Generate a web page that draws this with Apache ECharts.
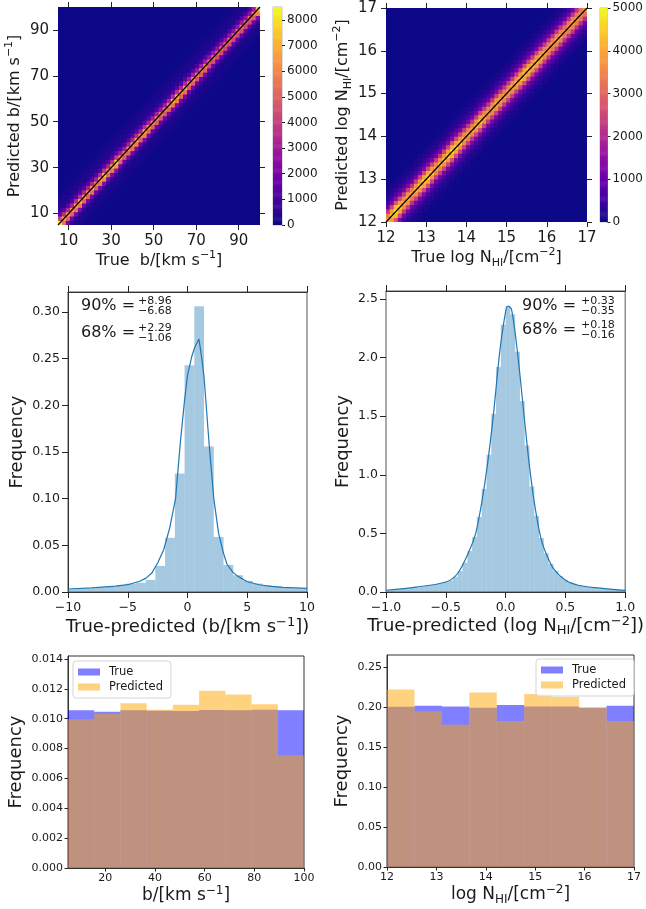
<!DOCTYPE html>
<html><head><meta charset="utf-8">
<script src="https://cdn.jsdelivr.net/npm/echarts@6/dist/echarts.min.js"></script>
<style>html,body{margin:0;padding:0;background:#fff}#c{width:646px;height:909px}</style>
</head><body><div id="c"></div>
<script>
// ---------------- DATA ----------------
// Heatmap 1: true vs predicted b (50 bins, 5..100)
const h1Range = [5, 100];
const h1Bins = 50;
const h1Diag = [8300,7000,6500,6200,6800,7200,6400,6300,6600,6200,7000,7600,6500,7000,8000,6400,6000,6300,6600,7000,
                6200,7200,6500,6000,6200,5800,6000,6400,6900,7200,6300,6800,6000,6200,5800,6000,6200,5500,5600,5400,
                5500,5200,5500,5300,5400,5600,5200,5400,6000,7500];
const h1KernelOffsets = [-6,-5,-4,-3,-2,-1,0,1,2,3,4,5,6];
const h1KernelFrac    = [0.02,0.03,0.04,0.08,0.3,0.8,1,0.5,0.2,0.07,0.05,0.035,0.025];
const h1CbarMax = 8500;
const h1CbarTicks = [0,1000,2000,3000,4000,5000,6000,7000,8000];
const h1Ticks = [10,30,50,70,90];

// Heatmap 2: true vs predicted log N_HI (50 bins, 12..17)
const h2Range = [12, 17];
const h2Bins = 50;
const h2Diag = [4000,4500,5000,4600,4200,4300,3900,4300,4400,4600,4700,4400,4100,4200,4400,4500,4800,4600,4400,4200,
                4100,4000,4300,4500,4200,4000,4100,4300,4200,4000,4100,4200,4300,4400,4600,4500,4300,4400,4300,4100,
                4000,3900,4100,4000,3800,3900,4000,3900,3800,3700];
const h2KernelOffsets = [-7,-6,-5,-4,-3,-2,-1,0,1,2,3,4,5,6,7];
const h2KernelFrac    = [0.02,0.04,0.07,0.14,0.28,0.55,0.85,1,0.85,0.55,0.28,0.14,0.07,0.04,0.02];
const h2CbarMax = 5000;
const h2CbarTicks = [0,1000,2000,3000,4000,5000];
const h2Ticks = [12,13,14,15,16,17];

// Residual histogram b
const resBEdges = [-10,-9.21,-8.395,-7.58,-6.765,-5.95,-5.135,-4.32,-3.505,-2.69,-1.875,-1.06,-0.245,0.57,1.385,2.2,3.015,3.83,4.645,5.46,6.275,7.09,7.905,8.72,9.535,10];
const resBFreq  = [0.003,0.0035,0.004,0.005,0.006,0.007,0.009,0.010,0.013,0.028,0.058,0.127,0.243,0.306,0.156,0.059,0.029,0.018,0.012,0.009,0.007,0.006,0.005,0.004,0.0035];
const kdeBX = [-10,-8,-6,-5,-4,-3.5,-3,-2.5,-2,-1.5,-1,-0.6,-0.25,0,0.35,0.6,0.96,1.2,1.4,1.8,2.2,2.6,3,3.3,3.8,4.2,5,6,7,8,10];
const kdeBY = [0.0032,0.0045,0.0062,0.0078,0.0115,0.0146,0.020,0.031,0.045,0.068,0.100,0.160,0.205,0.232,0.252,0.262,0.271,0.25,0.228,0.16,0.10,0.063,0.042,0.030,0.021,0.017,0.011,0.0078,0.006,0.005,0.0039];
const resBTicksY = [0,0.05,0.10,0.15,0.20,0.25,0.30];
const resBNotes = [['90%','+8.96','−6.68'],['68%','+2.29','−1.06']];

// Residual histogram log N_HI
const resNEdges = [-1,-0.96,-0.92,-0.88,-0.84,-0.8,-0.76,-0.72,-0.68,-0.64,-0.6,-0.56,-0.52,-0.48,-0.44,-0.4,-0.36,-0.32,-0.28,-0.24,-0.2,-0.16,-0.12,-0.08,-0.04,0,
                   0.04,0.08,0.12,0.16,0.2,0.24,0.28,0.32,0.36,0.4,0.44,0.48,0.52,0.56,0.6,0.64,0.68,0.72,0.76,0.8,0.84,0.88,0.92,0.96,1];
const resNFreq = [0.016,0.019,0.022,0.026,0.030,0.035,0.040,0.045,0.051,0.058,0.066,0.075,0.085,0.10,0.13,0.18,0.25,0.35,0.47,0.64,0.88,1.17,1.52,1.92,2.28,
                  2.44,2.37,2.05,1.63,1.25,0.90,0.65,0.46,0.33,0.24,0.18,0.135,0.105,0.085,0.07,0.058,0.05,0.043,0.038,0.033,0.028,0.024,0.021,0.018,0.015];
const kdeNX = [-1,-0.75,-0.5,-0.4,-0.3,-0.25,-0.2,-0.15,-0.1,-0.05,0,0.02,0.05,0.1,0.15,0.2,0.25,0.3,0.35,0.4,0.5,0.6,0.75,1];
const kdeNY = [0.015,0.042,0.085,0.16,0.36,0.50,0.76,1.10,1.53,2.04,2.39,2.44,2.41,2.04,1.55,1.07,0.70,0.44,0.30,0.20,0.10,0.06,0.037,0.014];
const resNTicksY = [0,0.5,1.0,1.5,2.0,2.5];
const resNNotes = [['90%','+0.33','−0.35'],['68%','+0.18','−0.16']];

// Distributions b
const distBEdges = [5,15.56,26.11,36.67,47.22,57.78,68.33,78.89,89.44,100];
const distBTrue  = [0.01056,0.01047,0.01056,0.01053,0.01052,0.01058,0.01056,0.0106,0.01056];
const distBPred  = [0.00996,0.01033,0.01104,0.0106,0.01093,0.01187,0.01162,0.01096,0.00756];
const distBTicksX = [20,40,60,80,100];
const distBTicksY = [0,0.002,0.004,0.006,0.008,0.010,0.012,0.014];

// Distributions log N_HI
const distNEdges = [12,12.556,13.111,13.667,14.222,14.778,15.333,15.889,16.444,17];
const distNTrue  = [0.2007,0.2019,0.201,0.1994,0.2028,0.2011,0.201,0.1994,0.2019];
const distNPred  = [0.2224,0.1952,0.178,0.2186,0.1827,0.2166,0.2132,0.1998,0.1827];
const distNTicksY = [0,0.05,0.10,0.15,0.20,0.25];

// ---------------- BUILD ----------------
const FONT = 'DejaVu Sans';
const TXT = '#1a1a1a';
const plasma = ['#0d0887','#41049d','#6a00a8','#8f0da4','#b12a90','#cc4778','#e16462','#f2844b','#fca636','#fcce25','#f0f921'];

function buildCells(range, n, diag, kOff, kVal){
  const w = (range[1]-range[0])/n, out = [];
  for (let i=0;i<n;i++) for (let j=0;j<n;j++){
    const k = kOff.indexOf(j-i);
    if (k >= 0) out.push([range[0]+(i+0.5)*w, range[0]+(j+0.5)*w, diag[i]*kVal[k]]);
  }
  return out;
}
function cbarCells(max){
  const out=[], n=200, s=max/n;
  for (let i=0;i<n;i++) out.push([0.5, (i+0.5)*s, (i+0.5)*s]);
  return out;
}
function heatRender(hw, hh){
  return function(params, api){
    const x = api.value(0), y = api.value(1);
    const p0 = api.coord([x-hw, y+hh]), p1 = api.coord([x+hw, y-hh]);
    const c = api.visual('color');
    return {type:'rect', shape:{x:p0[0]-0.25, y:p0[1]-0.25, width:p1[0]-p0[0]+0.5, height:p1[1]-p0[1]+0.5},
            style:{fill:c}};
  };
}
function barData(edges, vals){ return vals.map((v,i)=>[edges[i], edges[i+1], v]); }
function barRender(fill){
  return function(params, api){
    const p0 = api.coord([api.value(0), api.value(2)]), p1 = api.coord([api.value(1), 0]);
    return {type:'rect', shape:{x:p0[0], y:p0[1], width:p1[0]-p0[0], height:p1[1]-p0[1]}, style:{fill:fill}};
  };
}
const pairs = (xs, ys) => xs.map((x,i)=>[x, ys[i]]);
const minus = s => String(s).replace('-', '−');

function rich(fs){
  return {
    fontSize: fs, fontFamily: FONT, color: TXT, lineHeight: 22,
    rich: {
      sup: {fontSize: Math.round(fs*0.7), fontFamily: FONT, color: TXT, lineHeight: 12, verticalAlign: 'top'},
      sub: {fontSize: Math.round(fs*0.7), fontFamily: FONT, color: TXT, lineHeight: 13, verticalAlign: 'bottom'}
    }
  };
}
function axis(o){
  const a = {
    type:'value', gridIndex:o.grid, min:o.min, max:o.max, position:o.pos,
    axisLine:{show: o.line !== false, onZero:false, lineStyle:{color: o.lineColor || '#333', width:1}},
    axisTick:{show: o.tick !== false, length: o.tickLen || 5, lineStyle:{color:'#222', width:1}},
    axisLabel:{show: o.label !== false, fontSize: o.fs || 12, fontFamily: FONT, color: TXT, margin: o.margin || 8,
               formatter: o.fmt || (v => minus(v))},
    splitLine:{show:false}
  };
  if (o.ticks){ a.axisTick.customValues = o.ticks; a.axisLabel.customValues = o.ticks; }
  if (o.interval){ a.interval = o.interval; }
  if (o.name){ a.name = o.name; a.nameLocation = 'middle'; a.nameGap = o.gap; a.nameTextStyle = rich(o.nfs); }
  if (o.hidden){ a.show = false; }
  return a;
}

const grids = [
  {left:58, top:7, width:202, height:218, show:true, backgroundColor:plasma[0], borderWidth:0},
  {left:273, top:7, width:9, height:218, show:true, borderColor:'#bbb', borderWidth:1},
  {left:386, top:8, width:201, height:214, show:true, backgroundColor:plasma[0], borderWidth:0},
  {left:600, top:8, width:9, height:214, show:true, borderColor:'#bbb', borderWidth:1},
  {left:68, top:292, width:239, height:300, show:true, borderColor:'#555', borderWidth:1},
  {left:386, top:291, width:246, height:301, show:true, borderColor:'#555', borderWidth:1},
  {left:68, top:656, width:236, height:212, show:true, borderColor:'#333', borderWidth:1},
  {left:387, top:655, width:247, height:212, show:true, borderColor:'#333', borderWidth:1}
];

const xAxes = [
  axis({grid:0, min:h1Range[0], max:h1Range[1], pos:'bottom', line:false, ticks:h1Ticks, fs:15, margin:9,
        name:'True  b/[km s{sup|−1}]', gap:23, nfs:16}),
  axis({grid:0, min:h1Range[0], max:h1Range[1], pos:'top', line:false, ticks:h1Ticks, label:false}),
  axis({grid:1, min:0, max:1, hidden:true}),
  axis({grid:2, min:h2Range[0], max:h2Range[1], pos:'bottom', line:false, ticks:h2Ticks, fs:15, margin:9,
        name:'True log N{sub|HI}/[cm{sup|−2}]', gap:24, nfs:16}),
  axis({grid:2, min:h2Range[0], max:h2Range[1], pos:'top', line:false, ticks:h2Ticks, label:false}),
  axis({grid:3, min:0, max:1, hidden:true}),
  axis({grid:4, min:-10, max:10, interval:5, pos:'bottom', fs:12.5, tickLen:6, margin:9,
        name:'True-predicted (b/[km s{sup|−1}])', gap:24, nfs:18}),
  axis({grid:4, min:-10, max:10, interval:5, pos:'top', label:false, tickLen:6}),
  axis({grid:5, min:-1, max:1, interval:0.5, pos:'bottom', fs:12.5, tickLen:6, margin:9,
        fmt: v => minus(v.toFixed(1)),
        name:'True-predicted (log N{sub|HI}/[cm{sup|−2}])', gap:22, nfs:18}),
  axis({grid:5, min:-1, max:1, interval:0.5, pos:'top', label:false, tickLen:6}),
  axis({grid:6, min:distBEdges[0], max:distBEdges[distBEdges.length-1], pos:'bottom', ticks:distBTicksX, fs:11, tickLen:3.5, margin:5,
        name:'b/[km s{sup|−1}]', gap:16, nfs:17}),
  axis({grid:7, min:distNEdges[0], max:distNEdges[distNEdges.length-1], interval:1, pos:'bottom', fs:11, tickLen:3.5, margin:5,
        name:'log N{sub|HI}/[cm{sup|−2}]', gap:16, nfs:17})
];

const yAxes = [
  axis({grid:0, min:h1Range[0], max:h1Range[1], pos:'left', line:false, ticks:h1Ticks, fs:15, margin:9,
        name:'Predicted b/[km s{sup|−1}]', gap:29, nfs:16}),
  axis({grid:0, min:h1Range[0], max:h1Range[1], pos:'right', line:false, ticks:h1Ticks, label:false}),
  axis({grid:1, min:0, max:h1CbarMax, pos:'right', line:false, ticks:h1CbarTicks, fs:12, tickLen:3, margin:5}),
  axis({grid:2, min:h2Range[0], max:h2Range[1], pos:'left', line:false, ticks:h2Ticks, fs:15, margin:9,
        name:'Predicted log N{sub|HI}/[cm{sup|−2}]', gap:31, nfs:16}),
  axis({grid:2, min:h2Range[0], max:h2Range[1], pos:'right', line:false, ticks:h2Ticks, label:false}),
  axis({grid:3, min:0, max:h2CbarMax, pos:'right', line:false, ticks:h2CbarTicks, fs:12, tickLen:3, margin:5}),
  axis({grid:4, min:0, max:0.3214, pos:'left', ticks:resBTicksY, fs:12.5, tickLen:6, margin:8,
        fmt: v => v.toFixed(2), name:'Frequency', gap:37, nfs:18}),
  axis({grid:5, min:0, max:2.568, pos:'left', ticks:resNTicksY, fs:12.5, tickLen:6, margin:8, lineColor:'#aaa',
        fmt: v => v.toFixed(1), name:'Frequency', gap:30, nfs:18}),
  axis({grid:6, min:0, max:0.0142, pos:'left', ticks:distBTicksY, fs:11, tickLen:3.5, margin:5,
        fmt: v => v.toFixed(3), name:'Frequency', gap:39, nfs:18}),
  axis({grid:7, min:0, max:0.2655, pos:'left', ticks:distNTicksY, fs:11, tickLen:3.5, margin:5,
        fmt: v => v.toFixed(2), name:'Frequency', gap:31, nfs:18})
];

const h1w = (h1Range[1]-h1Range[0])/h1Bins/2, h2w = (h2Range[1]-h2Range[0])/h2Bins/2;
const BLUE = 'rgba(0,0,255,0.5)', ORANGE = 'rgba(255,165,0,0.5)', HIST = 'rgba(31,119,180,0.4)';

const series = [
  {type:'custom', xAxisIndex:0, yAxisIndex:0, data: buildCells(h1Range, h1Bins, h1Diag, h1KernelOffsets, h1KernelFrac),
   encode:{x:0, y:1}, renderItem: heatRender(h1w, h1w), clip:true, silent:true},
  {type:'line', xAxisIndex:0, yAxisIndex:0, data:[[h1Range[0],h1Range[0]],[h1Range[1],h1Range[1]]], showSymbol:false,
   lineStyle:{color:'#000', width:1.2}, z:5, silent:true},
  {type:'custom', xAxisIndex:2, yAxisIndex:2, data: cbarCells(h1CbarMax), encode:{x:0, y:1},
   renderItem: heatRender(0.5, h1CbarMax/400), clip:true, silent:true},
  {type:'custom', xAxisIndex:3, yAxisIndex:3, data: buildCells(h2Range, h2Bins, h2Diag, h2KernelOffsets, h2KernelFrac),
   encode:{x:0, y:1}, renderItem: heatRender(h2w, h2w), clip:true, silent:true},
  {type:'line', xAxisIndex:3, yAxisIndex:3, data:[[h2Range[0],h2Range[0]],[h2Range[1],h2Range[1]]], showSymbol:false,
   lineStyle:{color:'#000', width:1.2}, z:5, silent:true},
  {type:'custom', xAxisIndex:5, yAxisIndex:5, data: cbarCells(h2CbarMax), encode:{x:0, y:1},
   renderItem: heatRender(0.5, h2CbarMax/400), clip:true, silent:true},
  {type:'custom', xAxisIndex:6, yAxisIndex:6, data: barData(resBEdges, resBFreq), encode:{x:[0,1], y:2},
   renderItem: barRender(HIST), clip:true, silent:true},
  {type:'line', xAxisIndex:6, yAxisIndex:6, data: pairs(kdeBX, kdeBY), showSymbol:false,
   lineStyle:{color:'#1f77b4', width:1.2}, silent:true},
  {type:'custom', xAxisIndex:8, yAxisIndex:7, data: barData(resNEdges, resNFreq), encode:{x:[0,1], y:2},
   renderItem: barRender(HIST), clip:true, silent:true},
  {type:'line', xAxisIndex:8, yAxisIndex:7, data: pairs(kdeNX, kdeNY), showSymbol:false, smooth:0.3,
   lineStyle:{color:'#1f77b4', width:1.2}, silent:true},
  {type:'custom', name:'True', xAxisIndex:10, yAxisIndex:8, data: barData(distBEdges, distBTrue), encode:{x:[0,1], y:2},
   itemStyle:{color:BLUE}, renderItem: barRender(BLUE), silent:true},
  {type:'custom', name:'Predicted', xAxisIndex:10, yAxisIndex:8, data: barData(distBEdges, distBPred), encode:{x:[0,1], y:2},
   itemStyle:{color:ORANGE}, renderItem: barRender(ORANGE), silent:true},
  {type:'custom', name:'True', xAxisIndex:11, yAxisIndex:9, data: barData(distNEdges, distNTrue), encode:{x:[0,1], y:2},
   itemStyle:{color:BLUE}, renderItem: barRender(BLUE), silent:true},
  {type:'custom', name:'Predicted', xAxisIndex:11, yAxisIndex:9, data: barData(distNEdges, distNPred), encode:{x:[0,1], y:2},
   itemStyle:{color:ORANGE}, renderItem: barRender(ORANGE), silent:true}
];

function legend(left, top){
  return {
    left:left, top:top, orient:'vertical', itemWidth:22, itemHeight:7, itemGap:3,
    data:[{name:'True', icon:'rect', itemStyle:{color:BLUE}}, {name:'Predicted', icon:'rect', itemStyle:{color:ORANGE}}],
    textStyle:{fontSize:11.5, fontFamily:FONT, color:TXT, padding:[0,0,0,4]},
    borderColor:'#d5d5d5', borderWidth:1, borderRadius:3, padding:[5,8,5,5], backgroundColor:'rgba(255,255,255,0.8)',
    selectedMode:false
  };
}

function notes(list, x0, xs, ys){
  const g = [];
  list.forEach((n, k) => {
    g.push({type:'text', style:{text:n[0]+' =', x:x0, y:ys[k], fontSize:16, fontFamily:FONT, fill:TXT, verticalAlign:'middle'}});
    g.push({type:'text', style:{text:n[1], x:xs, y:ys[k]-5, fontSize:11, fontFamily:FONT, fill:TXT, verticalAlign:'middle'}});
    g.push({type:'text', style:{text:n[2], x:xs, y:ys[k]+5, fontSize:11, fontFamily:FONT, fill:TXT, verticalAlign:'middle'}});
  });
  return g;
}

const option = {
  animation:false,
  backgroundColor:'#fff',
  grid: grids,
  xAxis: xAxes,
  yAxis: yAxes,
  visualMap: [
    {show:false, type:'continuous', seriesIndex:[0,2], dimension:2, min:0, max:h1CbarMax, inRange:{color:plasma}},
    {show:false, type:'continuous', seriesIndex:[3,5], dimension:2, min:0, max:h2CbarMax, inRange:{color:plasma}}
  ],
  legend: [legend(73, 661), legend(536, 659)],
  graphic: notes(resBNotes, 81, 138, [306, 333]).concat(notes(resNNotes, 522, 581, [306, 330])),
  series: series
};

const chart = echarts.init(document.getElementById('c'), null, {renderer:'canvas'});
chart.setOption(option);
</script></body></html>
